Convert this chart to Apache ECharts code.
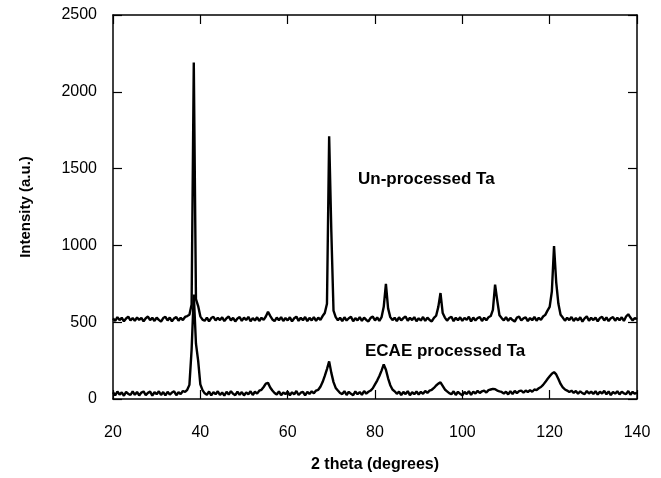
<!DOCTYPE html>
<html>
<head>
<meta charset="utf-8">
<title>XRD Ta</title>
<script src="https://cdn.jsdelivr.net/npm/echarts@6/dist/echarts.min.js"></script>
<style>
    html,body{margin:0;padding:0;background:#fff;}
    #echarts{width:661px;height:478px;}
</style>
</head>
<body>
<div id="echarts"></div>
<script>
// 2 theta sampling positions (degrees)
var twoTheta = [
    20,20.5,21,21.5,22,22.5,23,23.5,24,24.5,
    25,25.5,26,26.5,27,27.5,28,28.5,29,29.5,
    30,30.5,31,31.5,32,32.5,33,33.5,34,34.5,
    35,35.5,36,36.5,37,37.5,38,38.5,39,39.5,
    40,40.5,41,41.5,42,42.5,43,43.5,44,44.5,
    45,45.5,46,46.5,47,47.5,48,48.5,49,49.5,
    50,50.5,51,51.5,52,52.5,53,53.5,54,54.5,
    55,55.5,56,56.5,57,57.5,58,58.5,59,59.5,
    60,60.5,61,61.5,62,62.5,63,63.5,64,64.5,
    65,65.5,66,66.5,67,67.5,68,68.5,69,69.5,
    70,70.5,71,71.5,72,72.5,73,73.5,74,74.5,
    75,75.5,76,76.5,77,77.5,78,78.5,79,79.5,
    80,80.5,81,81.5,82,82.5,83,83.5,84,84.5,
    85,85.5,86,86.5,87,87.5,88,88.5,89,89.5,
    90,90.5,91,91.5,92,92.5,93,93.5,94,94.5,
    95,95.5,96,96.5,97,97.5,98,98.5,99,99.5,
    100,100.5,101,101.5,102,102.5,103,103.5,104,104.5,
    105,105.5,106,106.5,107,107.5,108,108.5,109,109.5,
    110,110.5,111,111.5,112,112.5,113,113.5,114,114.5,
    115,115.5,116,116.5,117,117.5,118,118.5,119,119.5,
    120,120.5,121,121.5,122,122.5,123,123.5,124,124.5,
    125,125.5,126,126.5,127,127.5,128,128.5,129,129.5,
    130,130.5,131,131.5,132,132.5,133,133.5,134,134.5,
    135,135.5,136,136.5,137,137.5,138,138.5,139,139.5,
    140
];

// intensity of un-processed Ta (offset pattern)
var unprocessed = [
    525,508,533,514,529,506,524,536,511,527,
    509,531,515,528,505,526,537,513,529,508,
    530,515,504,527,535,511,530,506,525,533,
    510,529,514,534,540,548,615,2190,650,605,
    538,517,509,530,505,527,535,511,529,514,
    532,507,526,537,512,528,505,524,533,509,
    530,514,535,506,527,511,532,508,529,515,
    537,568,541,518,507,530,513,533,508,527,
    512,532,505,526,536,509,529,513,534,507,
    528,512,533,509,530,515,540,560,620,1710,
    1090,575,533,513,529,507,532,511,526,535,
    506,527,512,533,509,530,515,505,528,536,
    511,531,508,533,600,750,590,533,514,529,
    507,532,512,527,537,509,529,514,533,506,
    526,511,534,509,530,515,505,528,542,600,
    690,560,530,510,527,535,507,529,513,532,
    509,528,515,536,505,530,511,527,534,508,
    529,513,532,540,580,745,640,545,527,512,
    533,509,528,514,504,530,536,511,525,532,
    507,527,513,534,510,529,515,537,548,575,
    600,700,995,760,620,548,530,510,529,514,
    534,508,527,512,532,504,525,538,509,529,
    514,530,506,527,535,511,531,507,526,533,
    510,529,513,532,508,537,552,530,511,527,
    520
];

// intensity of ECAE processed Ta
var ecae = [
    44,24,49,29,43,21,46,33,26,50,
    27,46,23,42,49,25,40,48,22,44,
    31,50,26,45,23,47,29,42,50,25,
    44,32,52,46,60,92,320,680,360,250,
    95,58,37,27,49,24,45,31,50,26,
    42,22,47,29,51,34,25,48,27,45,
    23,43,31,50,26,47,35,54,60,78,
    100,105,75,55,39,29,50,25,43,32,
    48,24,44,30,52,26,41,47,23,46,
    33,50,37,55,60,80,110,150,195,245,
    170,110,72,55,39,32,51,26,47,34,
    25,49,31,45,27,52,35,47,55,70,
    95,120,150,185,225,190,135,90,62,50,
    34,48,26,46,32,51,25,44,31,49,
    29,47,34,52,40,55,60,72,88,100,
    108,85,62,50,38,31,50,26,47,34,
    24,46,32,51,27,48,36,53,39,50,
    55,42,58,62,66,64,55,50,46,36,
    47,30,50,33,53,38,51,55,42,55,
    45,58,47,62,58,70,78,92,110,130,
    148,165,175,160,130,98,75,62,55,46,
    54,40,52,34,50,38,32,52,36,48,
    33,51,29,47,36,53,31,49,26,46,
    35,50,30,48,37,32,52,28,47,34,
    42
];

var xTicks = {min: 20, max: 140, interval: 20};
var yTicks = {min: 0, max: 2500, interval: 500};

function pairs(ys){
    var out = [];
    for(var i = 0; i < twoTheta.length; i++){
        out.push([twoTheta[i], ys[i]]);
    }
    return out;
}

var FONT = "'Liberation Sans', Arial, sans-serif";
var NARROW = "'Liberation Sans Narrow', 'Liberation Sans', Arial, sans-serif";

function frameAxis(pos, isX, withLabel){
    var ax = {
        type: 'value',
        position: pos,
        min: isX ? xTicks.min : yTicks.min,
        max: isX ? xTicks.max : yTicks.max,
        interval: isX ? xTicks.interval : yTicks.interval,
        axisLine: {show: true, onZero: false, lineStyle: {color: '#000', width: 1.5}},
        axisTick: {show: true, inside: true, length: 9, lineStyle: {color: '#000', width: 1.2}},
        splitLine: {show: false},
        axisLabel: {
            show: withLabel, color: '#000', fontSize: 16, fontFamily: FONT,
            formatter: function(v){ return String(v); }
        }
    };
    if(withLabel){
        ax.axisLabel.margin = isX ? 26 : 16;
    }
    return ax;
}

var xBottom = frameAxis('bottom', true, true);
xBottom.name = '2 theta (degrees)';
xBottom.nameLocation = 'middle';
xBottom.nameGap = 58;
xBottom.nameTextStyle = {color: '#000', fontSize: 16, fontWeight: 'bold', fontFamily: FONT};

var yLeft = frameAxis('left', false, true);
yLeft.name = 'Intensity (a.u.)';
yLeft.nameLocation = 'middle';
yLeft.nameGap = 80;
yLeft.nameTextStyle = {color: '#000', fontSize: 15, fontWeight: 'bold', fontFamily: NARROW};

var option = {
    animation: false,
    backgroundColor: '#fff',
    grid: {left: 113, right: 24, top: 15, bottom: 78, containLabel: false},
    xAxis: [xBottom, frameAxis('top', true, false)],
    yAxis: [yLeft, frameAxis('right', false, false)],
    graphic: [
        {type: 'text', left: 358, top: 171,
            style: {text: 'Un-processed Ta', fill: '#000', font: 'bold 17px ' + FONT}},
        {type: 'text', left: 365, top: 343,
            style: {text: 'ECAE processed Ta', fill: '#000', font: 'bold 17px ' + FONT}}
    ],
    series: [
        {
            name: 'Un-processed Ta',
            type: 'line',
            showSymbol: false,
            xAxisIndex: 0,
            yAxisIndex: 0,
            lineStyle: {color: '#000', width: 2.4},
            data: pairs(unprocessed)
        },
        {
            name: 'ECAE processed Ta',
            type: 'line',
            showSymbol: false,
            xAxisIndex: 0,
            yAxisIndex: 0,
            lineStyle: {color: '#000', width: 2.4},
            data: pairs(ecae)
        }
    ]
};

var myChart = echarts.init(document.getElementById('echarts'));
myChart.setOption(option);
</script>
</body>
</html>
